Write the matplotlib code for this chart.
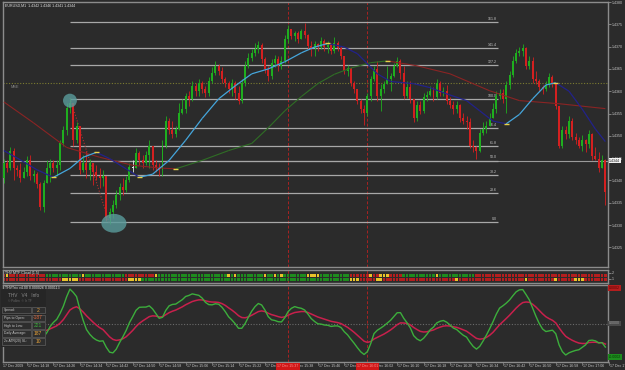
import matplotlib
matplotlib.use("Agg")
import matplotlib.pyplot as plt
from matplotlib.patches import Ellipse, Rectangle
from matplotlib.collections import LineCollection
import numpy as np

plt.rcParams['font.family'] = ['Liberation Sans', 'DejaVu Sans']

# EURUSD M1, 17 Dec 2009, first bar 14:11 -- prices as pips above 1.4300
base = 1.4300
first_open = 40.5
closes = [43.8, 42.7, 46.7, 42.7, 42.3, 40.5, 41.8, 44.5, 40.9, 41.4,
          39.1, 34.0, 39.4, 42.7, 44.0, 42.7, 43.4, 48.3, 51.2, 56.3,
          57.4, 49.0, 52.1, 42.3, 43.8, 42.3, 43.8, 41.8, 41.1, 40.5,
          40.9, 31.5, 32.9, 34.4, 36.7, 38.5, 37.8, 40.0, 43.1, 42.9,
          46.1, 44.5, 44.0, 45.6, 47.8, 43.4, 42.7, 42.3, 47.8, 53.4,
          51.2, 50.5, 51.6, 55.2, 56.1, 59.0, 58.3, 61.2, 60.1, 61.9,
          60.6, 59.7, 62.3, 64.1, 65.7, 64.6, 62.8, 61.9, 60.6, 61.9,
          59.7, 57.9, 61.9, 65.7, 67.5, 68.6, 69.5, 70.4, 67.3, 65.0,
          63.5, 66.4, 67.3, 65.7, 66.8, 71.7, 73.9, 72.4, 73.1, 71.7,
          73.5, 72.6, 70.2, 69.7, 70.6, 69.9, 71.3, 69.9, 70.4, 69.0,
          70.8, 69.7, 67.9, 64.6, 65.2, 61.9, 60.6, 57.9, 56.1, 55.2,
          59.0, 62.8, 65.0, 59.0, 60.6, 61.7, 62.8, 63.5, 65.7, 66.8,
          64.1, 59.0, 61.0, 58.3, 53.9, 57.0, 55.6, 58.8, 59.2, 60.1,
          58.8, 61.9, 59.7, 60.1, 57.9, 57.0, 56.1, 57.0, 53.9, 53.4,
          53.0, 47.8, 47.4, 46.7, 50.7, 51.6, 52.3, 54.1, 56.1, 59.0,
          59.7, 58.3, 61.5, 63.7, 66.8, 68.6, 69.0, 69.7, 65.7, 66.8,
          62.8, 62.3, 61.0, 60.6, 61.5, 63.2, 61.9, 56.8, 47.8, 51.2,
          50.5, 53.4, 49.8, 49.0, 47.8, 49.0, 48.1, 50.3, 45.4, 44.9,
          42.7, 44.5, 37.3]
highs = [44.9, 44.5, 47.6, 47.2, 43.4, 43.8, 43.1, 45.4, 45.6, 42.3,
         41.8, 39.6, 40.0, 44.5, 44.9, 44.5, 44.5, 49.0, 52.3, 57.4,
         58.5, 56.1, 53.0, 51.6, 45.6, 46.7, 44.9, 43.4, 43.4, 42.7,
         42.3, 41.1, 33.8, 35.6, 37.8, 39.4, 40.5, 41.1, 44.0, 44.5,
         47.2, 46.7, 45.6, 46.7, 49.0, 47.2, 44.5, 44.0, 49.0, 54.5,
         53.9, 53.4, 52.3, 57.4, 58.3, 59.7, 60.1, 62.3, 61.9, 62.8,
         62.3, 61.2, 63.2, 65.5, 66.8, 66.1, 65.5, 63.2, 62.3, 62.8,
         62.3, 61.2, 62.8, 66.8, 68.6, 69.5, 70.8, 71.3, 70.8, 67.7,
         65.7, 67.3, 68.1, 67.9, 67.9, 72.6, 74.8, 73.9, 73.5, 73.5,
         73.9, 75.3, 72.8, 71.3, 71.3, 70.8, 72.2, 71.7, 71.3, 70.8,
         72.2, 71.3, 70.2, 67.9, 65.9, 65.0, 62.3, 60.6, 58.3, 57.0,
         59.7, 63.5, 65.7, 66.8, 61.7, 62.3, 65.7, 64.1, 66.4, 67.7,
         67.3, 65.7, 62.3, 62.3, 58.3, 57.9, 57.9, 59.7, 60.1, 61.2,
         61.0, 62.8, 62.3, 61.0, 61.5, 58.8, 57.9, 57.9, 57.2, 55.2,
         54.5, 53.9, 49.0, 47.8, 51.6, 53.0, 53.4, 55.2, 57.4, 60.1,
         60.6, 60.6, 62.3, 64.6, 67.9, 69.5, 69.9, 70.6, 69.9, 67.9,
         67.7, 64.6, 62.8, 61.5, 62.3, 64.1, 63.7, 59.7, 56.8, 52.1,
         52.1, 54.5, 53.9, 50.7, 49.8, 50.1, 49.4, 51.2, 50.7, 47.6,
         46.3, 45.6, 44.9]
lows = [39.4, 41.8, 42.3, 40.0, 41.1, 39.6, 40.5, 41.1, 40.0, 39.6,
        38.2, 33.3, 32.9, 40.0, 39.6, 41.8, 41.1, 42.3, 47.8, 50.1,
        55.2, 47.8, 48.5, 41.4, 41.8, 40.5, 40.0, 38.9, 40.0, 38.2,
        38.7, 30.9, 30.2, 31.5, 33.8, 35.6, 36.7, 37.3, 39.6, 41.8,
        42.7, 43.4, 42.7, 43.4, 42.9, 42.3, 41.8, 41.1, 41.1, 47.2,
        50.5, 49.6, 49.8, 51.2, 54.8, 55.2, 56.8, 57.9, 59.0, 59.0,
        59.7, 58.8, 59.0, 61.9, 63.7, 63.7, 61.9, 61.0, 59.7, 59.0,
        58.3, 57.2, 57.4, 61.2, 65.2, 66.8, 67.9, 68.6, 66.4, 64.1,
        62.3, 62.8, 65.5, 64.6, 65.0, 66.4, 70.8, 71.7, 71.3, 70.8,
        71.7, 71.9, 69.5, 67.9, 67.9, 69.0, 69.5, 69.0, 68.6, 68.4,
        68.6, 69.0, 67.3, 63.9, 63.5, 61.2, 59.7, 57.2, 55.2, 52.5,
        54.5, 57.9, 62.3, 57.9, 55.6, 59.7, 61.9, 60.1, 63.2, 65.5,
        62.8, 58.3, 58.5, 57.4, 53.0, 53.4, 54.8, 55.2, 57.9, 59.0,
        57.9, 58.3, 59.0, 59.0, 57.2, 56.3, 55.0, 55.2, 53.2, 52.7,
        51.6, 47.2, 46.3, 44.9, 46.3, 50.1, 50.7, 52.3, 53.9, 55.2,
        58.3, 57.4, 55.2, 60.6, 63.2, 66.4, 67.9, 67.9, 65.0, 65.0,
        61.9, 61.7, 60.1, 59.4, 60.1, 61.0, 61.0, 56.1, 47.2, 47.2,
        49.4, 49.6, 49.0, 48.1, 47.2, 46.7, 46.3, 47.2, 44.5, 44.5,
        41.8, 43.4, 34.4]

# moving averages (bar index, pips)
fast_ma_bars = [0, 5, 10, 15, 20, 24, 28, 32, 37, 41, 45, 50, 55, 60, 65, 70, 75, 80, 85,
                90, 94, 98, 103, 107, 113, 117, 121, 124, 129, 134, 140, 144, 148, 152,
                156, 160, 164, 167, 171, 175, 179, 182]
fast_ma = [46.7, 44.6, 42.4, 40.7, 42.7, 45.2, 46.3, 44.9, 42.6, 40.7, 41.4, 44.5, 49.0,
           53.9, 58.3, 61.2, 63.9, 65.0, 66.6, 68.6, 69.9, 70.7, 69.9, 68.4, 63.9, 62.2,
           61.9, 61.7, 60.8, 59.4, 57.9, 55.6, 53.3, 52.7, 54.8, 58.3, 61.4, 61.9, 60.0,
           56.0, 51.5, 48.7]
slow_ma_bars = [0, 9, 19, 29, 39, 47, 52, 60, 68, 75, 80, 85, 90, 95, 100, 105, 111, 116,
                125, 135, 147, 156, 168, 182]
slow_ma = [57.6, 52.9, 47.4, 45.2, 43.4, 42.8, 42.6, 44.5, 46.7, 48.3, 51.8, 55.6, 58.8,
           61.7, 63.8, 65.2, 66.4, 66.8, 65.7, 63.9, 60.1, 57.9, 57.2, 56.1]

start_minute = 14 * 60 + 11
vlines_at = [86, 110]
fib_low, fib_high = 30.6, 58.3
fib_levels = [0.0, 23.6, 38.2, 50.0, 61.8, 76.4, 100.0, 127.2, 141.4, 161.8]
fib_start, fib_end = 20, 149.4
mse_level = 61.9
bid = 44.45

# THV MTF cloud rows, one letter per bar (G green, R red, Y yellow)
cloud_top = ("RYRRRRRRRRRRR" + "GGGGGGGGGGGYGGGGGGGGGGGG" + "RRRRRRRRRY"
             + "GGGGGGGGGGGGGGGGGGGGGYGYGGGGGGGGYGGYGYGGGGGGGYYYYGGGGGGGGG"
             + "RRRRRRYRRYYYRRRR" + "GGGGGGGGGGYGGGGGGGGGGG"
             + "RRRRRRRRRRRRRRRRRRRRRRRRRRRRRRRRRRRRRRRRRRRRRRRRRRRRR")
cloud_bot = ("RRRRRRRRRRRRRRRRRRYYYYYRRRRRRRRRRRRRRR" + "YYYYGGGGGG"
             + "GGGGGGGGGGGGGGGGGGGGGGGGGGGGGGGGGGGGGGGGGGGGGGGGGGGGGGGGG"
             + "YYYRRRRRYYRRRRRRRRRRRRRRRRRRRRRRYRRRRRRRRRRRRRRRRRRRRYRRRRRRRRYRRRRRYYYRRRRRRRRRRRRRRRRR")

info_rows = [("Spread:", "2", "#e8a33a"), ("Pips to Open:", "-187", "#e0683a"),
             ("High to Low:", "221", "#3faf3f"), ("Daily Average:", "187", "#e8a33a"),
             ("2x ATR(20) SL:", "10", "#e8a33a")]

n = len(closes)
x = np.arange(n)
c = base + np.array(closes) / 1e4
o = np.r_[base + first_open / 1e4, c[:-1]]
hi = np.maximum(base + np.array(highs) / 1e4, np.maximum(o, c))
lo = np.minimum(base + np.array(lows) / 1e4, np.minimum(o, c))


def ema(v, period, seed):
    a = 2.0 / (period + 1)
    e = seed
    out = []
    for val in v:
        e += a * (val - e)
        out.append(e)
    return np.array(out)


def trix(v, period):
    e3 = ema(ema(ema(v, period, v[0]), period, v[0]), period, v[0])
    return np.r_[0.0, np.diff(e3) / e3[:-1]]


W, H = 625, 370
bg = '#2b2b2b'
grid = '#8c8c8c'
txt = '#c8c8c8'
fig = plt.figure(figsize=(W / 100, H / 100), dpi=100)
fig.patch.set_facecolor(bg)


def rect(l, t, r, b):
    return [l / W, 1 - b / H, (r - l) / W, (b - t) / H]


ax = fig.add_axes(rect(3, 2, 608, 267))
ax2 = fig.add_axes(rect(3, 270, 608, 283))
ax3 = fig.add_axes(rect(3, 285, 608, 362))
for a in (ax, ax2, ax3):
    a.set_facecolor(bg)
    a.set_xlim(-0.26, 182.8)
    for s in a.spines.values():
        s.set_color(grid)
        s.set_linewidth(1.0)
    a.tick_params(axis='x', bottom=False, labelbottom=False)
    a.yaxis.tick_right()
    a.tick_params(axis='y', colors=grid, labelcolor=txt, labelsize=2.6,
                  length=2, width=0.6, pad=1)
    for v in vlines_at:
        a.axvline(v, color='#a82222', ls=(0, (3, 2)), lw=0.7, zorder=1)

# ---- main price panel
ax.set_ylim(base + 20.6e-4, base + 79.75e-4)
ticks = np.arange(1.4325, 1.43801, 0.0005)
ax.set_yticks(ticks)
ax.set_yticklabels([f'{t:.4f}' for t in ticks])

ax.axhline(base + mse_level / 1e4, color='#7c7c30', ls=(0, (1, 1.5)), lw=0.8, zorder=1)
ax.text(2, base + (mse_level - 1.0) / 1e4, 'MSE', color='#8a8a8a', fontsize=2.8, va='center')
ax.axhline(base + bid / 1e4, color='#9a9a9a', lw=0.8, zorder=1)

for lv in fib_levels:
    yv = base + (fib_low + lv / 100 * (fib_high - fib_low)) / 1e4
    ax.hlines(yv, fib_start, fib_end, color='#a8a8a8', lw=0.9, zorder=2)
    ax.text(fib_end - 0.3, yv + 0.25e-4, f'{lv:.1f}', color=txt, fontsize=2.6,
            ha='right', va='bottom', zorder=2)
ax.plot([20, 32], [hi[20], lo[32]], color='#b03030', ls=':', lw=0.8, zorder=2)

green, red, white = '#1fae1f', '#d42020', '#e6e6e6'
body = np.abs(c - o)
up = c - o > 0.25e-4
dn = o - c > 0.25e-4
dj = ~(up | dn)
for m, col in ((up, green), (dn, red), (dj, white)):
    ax.vlines(x[m], lo[m], hi[m], color=col, lw=0.6, zorder=3)
    ax.bar(x[m], np.maximum(body[m], 0.2e-4), bottom=np.minimum(o, c)[m],
           width=0.6, color=col, linewidth=0, zorder=3)


def slope_line(a, bx, vals, col_up, col_dn, lw):
    bx = np.asarray(bx, float)
    vals = base + np.asarray(vals) / 1e4
    pts = np.column_stack([bx, vals])
    segs = np.stack([pts[:-1], pts[1:]], axis=1)
    d = np.diff(vals)
    a.add_collection(LineCollection(segs, colors=[col_up if k >= 0 else col_dn for k in d],
                                    linewidths=lw, zorder=4))
    sg = np.sign(d)
    turns = np.where(sg[1:] != sg[:-1])[0] + 1
    a.hlines(vals[turns], bx[turns] - 0.8, bx[turns] + 0.8, color='#e8d24a', lw=1.0, zorder=5)


slope_line(ax, slow_ma_bars, slow_ma, '#2f6e25', '#8a2424', 0.8)
slope_line(ax, fast_ma_bars, fast_ma, '#45a6dc', '#22228a', 0.9)

ax.add_patch(Ellipse((20, base + 57.9e-4), 4.2, 3.1e-4, color='#5a9c9c', alpha=0.8, zorder=6, lw=0))
ax.add_patch(Ellipse((33.3, base + 30.4e-4), 7.6, 4.2e-4, color='#5a9c9c', alpha=0.8, zorder=6, lw=0))

ax.text(0.003, 0.995, 'EURUSD,M1  1.4342 1.4346 1.4341 1.4344', transform=ax.transAxes,
        fontsize=2.6, color='#e0e0e0', va='top')
ax.text(1.002, base + bid / 1e4, '1.4344', transform=ax.get_yaxis_transform(), fontsize=2.6,
        color='#202020', va='center', ha='left', clip_on=False,
        bbox=dict(boxstyle='square,pad=0.15', fc='#f0f0f0', ec='none'))

# ---- MTF cloud panel
cmap = {'G': '#1e8c1e', 'R': '#b41e1e', 'Y': '#e8c22a'}
top_cols = [cmap[k] for k in cloud_top[:n]]
bot_cols = [cmap[k] for k in cloud_bot[:n]]
ax2.bar(x[:len(top_cols)], 0.55, bottom=1.25, width=0.78, color=top_cols, linewidth=0)
ax2.bar(x[:len(bot_cols)], 0.48, bottom=0.68, width=0.78, color=bot_cols, linewidth=0)
ax2.set_ylim(0.333, 2.5)
ax2.set_yticks([1, 2])
ax2.set_yticklabels(['1', '2'])
ax2.text(0.003, 0.93, 'THV MTF Cloud (1,5)', transform=ax2.transAxes, fontsize=2.6,
         color='#e8e8e8', va='top', zorder=6)

# ---- THVTrix panel
fast_trix = trix(c, 5)
slow_trix = trix(c, 8)
M = np.abs(fast_trix).max() * 1.12
ax3.set_ylim(-M, M)
ax3.set_yticks([])
ax3.axhline(0, color='#6a6a6a', ls=(0, (1, 1.5)), lw=0.8)
ax3.plot(x, slow_trix, color='#c8204c', lw=1.1, zorder=3)
ax3.plot(x, fast_trix, color='#3cae3c', lw=1.0, zorder=4)
ax3.text(0.003, 0.985, 'THVTrix v4.00 0.000026 0.000113', transform=ax3.transAxes,
         fontsize=2.6, color='#e0e0e0', va='top')
ax3.text(1.002, 0.96, '0.0002', transform=ax3.transAxes, fontsize=2.6, color='#5a0000',
         va='center', clip_on=False, bbox=dict(boxstyle='square,pad=0.25', fc='#b41e1e', ec='none'))
ax3.text(1.002, 0.5, '0.0000', transform=ax3.transAxes, fontsize=2.6, color='#a0a0a0',
         va='center', clip_on=False, bbox=dict(boxstyle='square,pad=0.25', fc='#4a4a4a', ec='none'))
ax3.text(1.002, 0.06, '-0.0002', transform=ax3.transAxes, fontsize=2.6, color='#003a00',
         va='center', clip_on=False, bbox=dict(boxstyle='square,pad=0.25', fc='#1e8c1e', ec='none'))

# info box
fp = dict(transform=fig.transFigure)
fig.patches.append(Rectangle((1 / W, 1 - 347 / H), 45 / W, 58 / H, fc='#262626', ec='none', **fp))
fig.text(8 / W, 1 - 295.5 / H, 'THV   V4   Info', fontsize=3.4, color='#8a8a8a', va='center')
fig.text(8 / W, 1 - 301.5 / H, '© Pollen  © In TF', fontsize=2.2, color='#6a6a6a', va='center')
for k, (lab, val, col) in enumerate(info_rows):
    yc = 310 + k * 7.8
    fig.patches.append(Rectangle((2 / W, 1 - (yc + 3.3) / H), 29 / W, 6.6 / H, fc='#2e2e2e',
                                 ec='#5e5e5e', lw=0.5, **fp))
    fig.patches.append(Rectangle((31.5 / W, 1 - (yc + 3.3) / H), 13 / W, 6.6 / H, fc='#2e2e2e',
                                 ec='#5e5e5e', lw=0.5, **fp))
    fig.text(4 / W, 1 - yc / H, lab, fontsize=2.4, color='#c8c8c8', va='center')
    fig.text(38 / W, 1 - yc / H, val, fontsize=3.6, color=col, va='center', ha='center')

# time axis
tf = ax3.get_xaxis_transform()
ax3.text(-0.2, -0.058, '17 Dec 2009', transform=tf, fontsize=2.6, color=txt, va='center', clip_on=False)
for i in range(7, n + 1, 8):
    t = start_minute + i
    ax3.plot([i, i], [0, -0.035], transform=tf, color=grid, lw=0.5, clip_on=False)
    ax3.text(i + 0.3, -0.058, f'17 Dec {t // 60}:{t % 60:02d}', transform=tf, fontsize=2.6,
             color=txt, va='center', clip_on=False)
for v in vlines_at:
    t = start_minute + v
    ax3.text(v, -0.058, f'17 Dec {t // 60}:{t % 60:02d}', transform=tf, fontsize=2.6,
             color='#ff8a8a', va='center', ha='center', clip_on=False, zorder=8,
             bbox=dict(boxstyle='square,pad=0.3', fc='#d01818', ec='none'))

fig.savefig('out.png', dpi=100, facecolor=bg)
